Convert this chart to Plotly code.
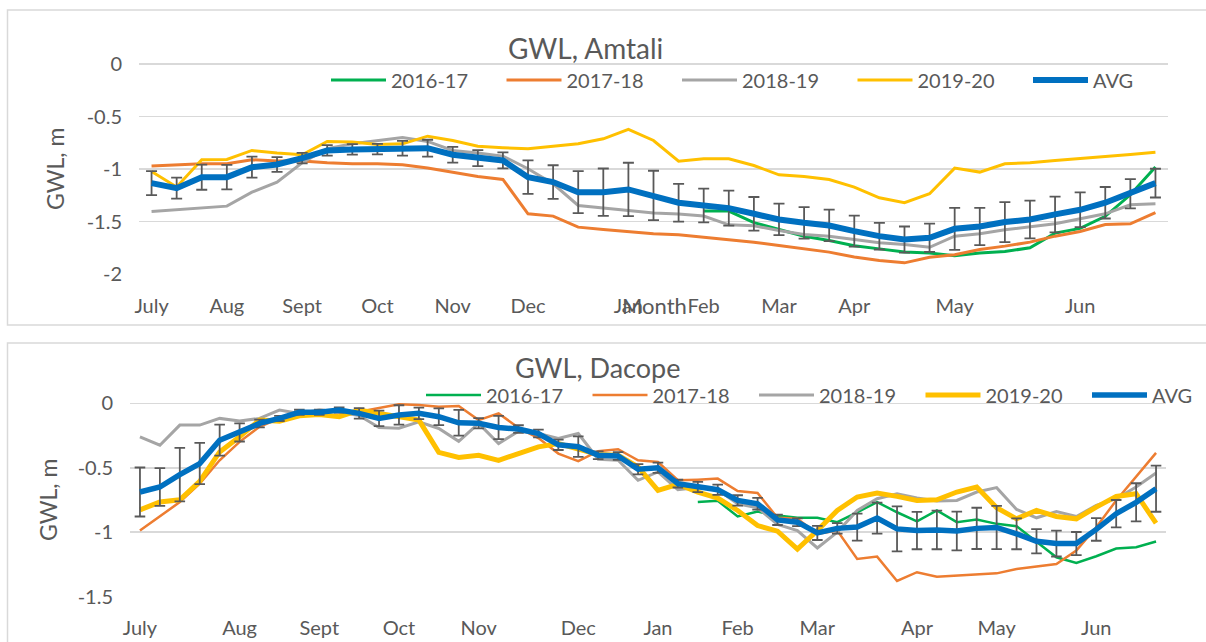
import plotly.graph_objects as go

# ---------------- data: GWL, Amtali (41 time steps) ----------------
amtali_month_labels = ["July", "Aug", "Sept", "Oct", "Nov", "Dec", "Jan", "Feb", "Mar", "Apr", "May", "Jun"]
amtali_month_pos = [0, 3, 6, 9, 12, 15, 19, 22, 25, 28, 32, 37]

amtali_2016_17 = [None] * 22 + [
    -1.40, -1.40, -1.51, -1.575, -1.64, -1.68, -1.73, -1.76, -1.79, -1.80,
    -1.825, -1.80, -1.785, -1.75, -1.61, -1.565, -1.45, -1.245, -0.98]
amtali_2017_18 = [
    -0.972, -0.959, -0.95, -0.95, -0.911, -0.924, -0.924, -0.94, -0.95, -0.95,
    -0.96, -0.991, -1.029, -1.07, -1.099, -1.426, -1.448, -1.553, -1.576, -1.594,
    -1.616, -1.626, -1.648, -1.67, -1.696, -1.728, -1.759, -1.791, -1.838, -1.87,
    -1.893, -1.84, -1.816, -1.766, -1.734, -1.696, -1.639, -1.594, -1.528, -1.521,
    -1.416]
amtali_2018_19 = [
    -1.404, -1.388, -1.372, -1.353, -1.22, -1.124, -0.94, -0.805, -0.76, -0.73,
    -0.70, -0.737, -0.823, -0.848, -0.877, -0.997, -1.14, -1.347, -1.372, -1.39,
    -1.418, -1.428, -1.448, -1.531, -1.54, -1.585, -1.623, -1.639, -1.671, -1.702,
    -1.718, -1.745, -1.639, -1.617, -1.578, -1.553, -1.521, -1.474, -1.426, -1.34,
    -1.331]
amtali_2019_20 = [
    -1.023, -1.17, -0.911, -0.908, -0.823, -0.848, -0.864, -0.737, -0.743, -0.766,
    -0.76, -0.687, -0.728, -0.782, -0.797, -0.807, -0.782, -0.76, -0.712, -0.623,
    -0.728, -0.925, -0.902, -0.902, -0.966, -1.055, -1.07, -1.099, -1.172, -1.274,
    -1.321, -1.235, -0.991, -1.029, -0.95, -0.94, -0.918, -0.902, -0.88, -0.861,
    -0.839]
amtali_avg = [
    -1.134, -1.182, -1.077, -1.077, -0.982, -0.956, -0.896, -0.823, -0.813, -0.81,
    -0.802, -0.801, -0.864, -0.896, -0.918, -1.077, -1.124, -1.22, -1.22, -1.194,
    -1.251, -1.321, -1.347, -1.372, -1.426, -1.48, -1.512, -1.537, -1.591, -1.639,
    -1.671, -1.654, -1.569, -1.547, -1.505, -1.48, -1.432, -1.388, -1.321, -1.235,
    -1.134]
amtali_err = [
    0.115, 0.10, 0.12, 0.117, 0.10, 0.07, 0.05, 0.05, 0.05, 0.05,
    0.07, 0.08, 0.075, 0.076, 0.076, 0.16, 0.16, 0.20, 0.225, 0.254,
    0.235, 0.18, 0.16, 0.166, 0.16, 0.15, 0.15, 0.15, 0.147, 0.127,
    0.124, 0.135, 0.20, 0.178, 0.19, 0.18, 0.17, 0.165, 0.15, 0.14,
    0.137]

# ---------------- data: GWL, Dacope (52 time steps) ----------------
dacope_month_labels = ["July", "Aug", "Sept", "Oct", "Nov", "Dec", "Jan", "Feb", "Mar", "Apr", "May", "Jun"]
dacope_month_pos = [0, 5, 9, 13, 17, 22, 26, 30, 34, 39, 43, 48]

dacope_2016_17 = [None] * 28 + [
    -0.766, -0.756, -0.878, -0.84, -0.87, -0.888, -0.888, -0.922, -0.845, -0.766,
    -0.845, -0.915, -0.831, -0.922, -0.902, -0.935, -0.953, -1.075, -1.194, -1.238,
    -1.186, -1.126, -1.116, -1.072]
dacope_2017_18 = [
    -0.987, -0.875, -0.766, -0.623, -0.442, -0.299, -0.182, -0.117, -0.078, -0.078,
    -0.06, -0.065, -0.039, -0.008, -0.013, -0.026, -0.02, -0.13, -0.078, -0.19,
    -0.27, -0.39, -0.449, -0.371, -0.356, -0.442, -0.455, -0.597, -0.592, -0.584,
    -0.68, -0.696, -0.888, -0.896, -1.013, -0.987, -1.207, -1.189, -1.378, -1.31,
    -1.345, -1.337, -1.329, -1.319, -1.285, -1.264, -1.246, -1.142, -0.961, -0.753,
    -0.571, -0.384]
dacope_2018_19 = [
    -0.26, -0.325, -0.169, -0.169, -0.117, -0.138, -0.117, -0.052, -0.078, -0.052,
    -0.07, -0.095, -0.188, -0.193, -0.143, -0.195, -0.295, -0.156, -0.312, -0.216,
    -0.234, -0.273, -0.234, -0.434, -0.442, -0.597, -0.532, -0.67, -0.654, -0.67,
    -0.779, -0.81, -0.94, -0.987, -1.122, -0.999, -0.831, -0.74, -0.701, -0.735,
    -0.758, -0.753, -0.688, -0.654, -0.823, -0.888, -0.839, -0.878, -0.792, -0.74,
    -0.649, -0.54]
dacope_2019_20 = [
    -0.826, -0.766, -0.748, -0.605, -0.377, -0.26, -0.13, -0.138, -0.097, -0.086,
    -0.104, -0.052, -0.078, -0.104, -0.13, -0.38, -0.42, -0.403, -0.442, -0.39,
    -0.338, -0.312, -0.35, -0.397, -0.403, -0.493, -0.675, -0.628, -0.688, -0.735,
    -0.831, -0.948, -0.992, -1.13, -0.987, -0.831, -0.727, -0.696, -0.722, -0.753,
    -0.748, -0.688, -0.649, -0.81, -0.896, -0.831, -0.878, -0.896, -0.805, -0.722,
    -0.701, -0.93]
dacope_avg = [
    -0.688, -0.649, -0.553, -0.467, -0.286, -0.226, -0.156, -0.117, -0.07, -0.07,
    -0.052, -0.078, -0.117, -0.09, -0.078, -0.104, -0.151, -0.155, -0.188, -0.2,
    -0.234, -0.322, -0.336, -0.403, -0.408, -0.511, -0.50, -0.623, -0.649, -0.67,
    -0.753, -0.779, -0.904, -0.922, -1.005, -0.97, -0.96, -0.89, -0.974, -0.987,
    -0.982, -0.99, -0.97, -0.963, -1.012, -1.07, -1.088, -1.088, -0.978, -0.856,
    -0.768, -0.662]
dacope_err = [
    0.19, 0.147, 0.208, 0.16, 0.12, 0.07, 0.03, 0.02, 0.02, 0.02,
    0.02, 0.04, 0.06, 0.075, 0.045, 0.065, 0.10, 0.04, 0.09, 0.03,
    0.03, 0.04, 0.08, 0.03, 0.03, 0.04, 0.04, 0.03, 0.04, 0.04,
    0.04, 0.045, 0.04, 0.03, 0.055, 0.04, 0.105, 0.12, 0.175, 0.145,
    0.15, 0.15, 0.16, 0.168, 0.12, 0.094, 0.10, 0.09, 0.088, 0.106,
    0.148, 0.179]

series_names = ["2016-17", "2017-18", "2018-19", "2019-20", "AVG"]
series_colors = ["#00B050", "#ED7D31", "#A5A5A5", "#FFC000", "#0070C0"]
amtali_widths = [3, 3, 3, 3, 6]
dacope_widths = [2.5, 2.5, 3, 5, 5.5]

W, H = 1206, 642
FONT = "Lato"
TXT = "#595959"
GRID = "#D9D9D9"


def px(x):
    return x / W


def py(y):
    return 1 - y / H


fig = go.Figure()

amtali_series = [amtali_2016_17, amtali_2017_18, amtali_2018_19, amtali_2019_20, amtali_avg]
dacope_series = [dacope_2016_17, dacope_2017_18, dacope_2018_19, dacope_2019_20, dacope_avg]

for name, col, lw, ys in zip(series_names, series_colors, amtali_widths, amtali_series):
    tr = dict(x=list(range(len(ys))), y=ys, mode="lines", name=name,
              line=dict(color=col, width=lw), xaxis="x", yaxis="y",
              legend="legend", connectgaps=False, hoverinfo="skip")
    if name == "AVG":
        tr["error_y"] = dict(type="data", array=amtali_err, symmetric=True,
                             color="#595959", thickness=1.8, width=5.5)
    fig.add_trace(go.Scatter(**tr))

for name, col, lw, ys in zip(series_names, series_colors, dacope_widths, dacope_series):
    tr = dict(x=list(range(len(ys))), y=ys, mode="lines", name=name,
              line=dict(color=col, width=lw), xaxis="x2", yaxis="y2",
              legend="legend2", connectgaps=False, hoverinfo="skip")
    if name == "AVG":
        tr["error_y"] = dict(type="data", array=dacope_err, symmetric=True,
                             color="#595959", thickness=1.8, width=5.3)
    fig.add_trace(go.Scatter(**tr))

tickfont = dict(family=FONT, size=20, color=TXT)
n_a = len(amtali_avg)
n_d = len(dacope_avg)

axis_common = dict(showline=False, ticks="", tickfont=tickfont, automargin=False)

fig.update_layout(
    width=W, height=H,
    margin=dict(l=0, r=0, t=0, b=0, pad=0, autoexpand=False),
    paper_bgcolor="white", plot_bgcolor="white",
    font=dict(family=FONT, color=TXT),
    xaxis=dict(domain=[px(139), px(1168)], range=[-0.5, n_a - 0.5], anchor="y",
               tickmode="array", tickvals=amtali_month_pos, ticktext=amtali_month_labels,
               showgrid=False, zeroline=False, ticklabelstandoff=17, **axis_common),
    yaxis=dict(domain=[py(274.5), py(63.6)], range=[-2.004, 0.004], anchor="x",
               tickmode="array", tickvals=[0, -0.5, -1, -1.5, -2], ticktext=["0", "-0.5", "-1", "-1.5", "-2"],
               showgrid=True, gridcolor=GRID, gridwidth=1.6,
               zeroline=True, zerolinecolor=GRID, zerolinewidth=1.6,
               ticklabelstandoff=16, **axis_common),
    xaxis2=dict(domain=[px(130), px(1166)], range=[-0.5, n_d - 0.5], anchor="y2",
                tickmode="array", tickvals=dacope_month_pos, ticktext=dacope_month_labels,
                showgrid=False, zeroline=False, ticklabelstandoff=17, **axis_common),
    yaxis2=dict(domain=[py(596.7), py(401)], range=[-1.5, 0.018], anchor="x2",
                tickmode="array", tickvals=[0, -0.5, -1, -1.5], ticktext=["0", "-0.5", "-1", "-1.5"],
                showgrid=True, gridcolor=GRID, gridwidth=1.6,
                zeroline=True, zerolinecolor=GRID, zerolinewidth=1.6,
                ticklabelstandoff=16, **axis_common),
    legend=dict(orientation="h", x=px(326), y=py(80), xanchor="left", yanchor="middle",
                bgcolor="rgba(0,0,0,0)", font=dict(family=FONT, size=20, color=TXT),
                itemwidth=55, entrywidth=105.5, entrywidthmode="pixels", tracegroupgap=0),
    legend2=dict(orientation="h", x=px(421), y=py(395), xanchor="left", yanchor="middle",
                 bgcolor="rgba(0,0,0,0)", font=dict(family=FONT, size=20, color=TXT),
                 itemwidth=55, entrywidth=96.5, entrywidthmode="pixels", tracegroupgap=0),
    showlegend=True,
)

annotations = [
    dict(text="GWL, Amtali", x=px(585), y=py(48), font=dict(family=FONT, size=28, color=TXT)),
    dict(text="GWL, Dacope", x=px(597), y=py(368), font=dict(family=FONT, size=27, color=TXT)),
    dict(text="GWL, m", x=px(55), y=py(169), textangle=-90, font=dict(family=FONT, size=23, color=TXT)),
    dict(text="GWL, m", x=px(48), y=py(500), textangle=-90, font=dict(family=FONT, size=23, color=TXT)),
    dict(text="Month", x=px(654), y=py(306), font=dict(family=FONT, size=22, color=TXT)),
]
for a in annotations:
    a.update(xref="paper", yref="paper", showarrow=False, xanchor="center", yanchor="middle")
fig.update_layout(annotations=annotations)

shapes = [
    dict(type="rect", xref="paper", yref="paper", x0=px(7.5), x1=px(1215), y0=py(325), y1=py(10),
         line=dict(color=GRID, width=1.5), fillcolor="rgba(0,0,0,0)", layer="below"),
    dict(type="rect", xref="paper", yref="paper", x0=px(7.5), x1=px(1215), y0=py(660), y1=py(343),
         line=dict(color=GRID, width=1.5), fillcolor="rgba(0,0,0,0)", layer="below"),
]
fig.update_layout(shapes=shapes)

fig.write_html(
    "out.html",
    config={"displayModeBar": False, "staticPlot": True},
    post_script="document.body.style.margin='0';document.body.style.overflow='hidden';",
)
